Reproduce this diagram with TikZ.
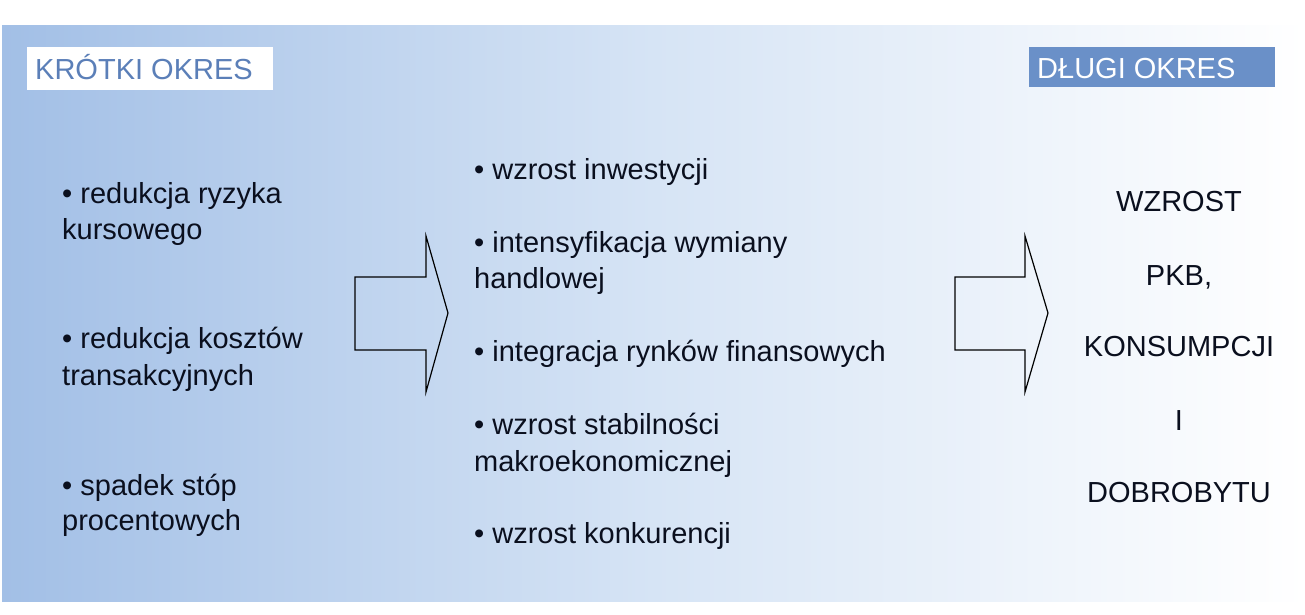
\documentclass[tikz,border=0pt]{standalone}
\usepackage{fontspec}
\setmainfont{Liberation Sans}
\definecolor{bgl}{HTML}{A2BFE6}
\definecolor{bgm}{HTML}{D6E4F5}
\definecolor{lbl}{HTML}{5B7FB8}
\definecolor{lbf}{HTML}{6A90C8}
\definecolor{txt}{HTML}{0A0F1E}
\tikzset{itm/.style={anchor=base west,inner sep=0pt,font=\fontsize{29}{34}\selectfont,text=txt},
 rgt/.style={anchor=base,inner sep=0pt,font=\fontsize{29}{34}\selectfont,text=txt},
 barrow/.style={draw=black,line width=1.2pt,fill=none,line join=miter}}
\begin{document}
\begin{tikzpicture}[x=1pt,y=-1pt]
\useasboundingbox (0,0) rectangle (1305,614);
\fill[white] (0,0) rectangle (1305,614);
\shade[left color=bgl,right color=white,middle color=bgm] (2,25) rectangle (1305,601);
\node[fill=white,minimum width=246pt,minimum height=43pt,anchor=north west,inner sep=0pt] (kb) at (27,47) {};
\node[anchor=base west,inner sep=0pt,text=lbl,font=\fontsize{29}{34}\selectfont] (k) at (35,79) {KRÓTKI OKRES};
\node[fill=lbf,minimum width=246pt,minimum height=40pt,anchor=north west,inner sep=0pt] (db) at (1029,47) {};
\node[anchor=base west,inner sep=0pt,text=white,font=\fontsize{29}{34}\selectfont] (d) at (1037,78) {DŁUGI OKRES};
\node[itm] (a1) at (62,203) {• redukcja ryzyka};
\node[itm] (a2) at (62,239) {kursowego};
\node[itm] (a3) at (62,348) {• redukcja kosztów};
\node[itm] (a4) at (62,385) {transakcyjnych};
\node[itm] (a5) at (62,495) {• spadek stóp};
\node[itm] (a6) at (62,530) {procentowych};
\node[itm] (b1) at (474,179) {• wzrost inwestycji};
\node[itm] (b2) at (474,252) {• intensyfikacja wymiany};
\node[itm] (b3) at (474,288) {handlowej};
\node[itm] (b4) at (474,361) {• integracja rynków finansowych};
\node[itm] (b5) at (474,434) {• wzrost stabilności};
\node[itm] (b6) at (474,471) {makroekonomicznej};
\node[itm] (b7) at (474,543) {• wzrost konkurencji};
\node[rgt] (c1) at (1179,211) {WZROST};
\node[rgt] (c2) at (1179,285) {PKB,};
\node[rgt] (c3) at (1179,356) {KONSUMPCJI};
\node[rgt] (c4) at (1179,430) {I};
\node[rgt] (c5) at (1179,502) {DOBROBYTU};
\draw[barrow] (355,277) -- (426,277) -- (426,236) -- (448,313) -- (426,392) -- (426,350) -- (355,350) -- cycle;
\draw[barrow] (955,277) -- (1025,277) -- (1025,236) -- (1048,313) -- (1025,392) -- (1025,350) -- (955,350) -- cycle;
\end{tikzpicture}
\end{document}
